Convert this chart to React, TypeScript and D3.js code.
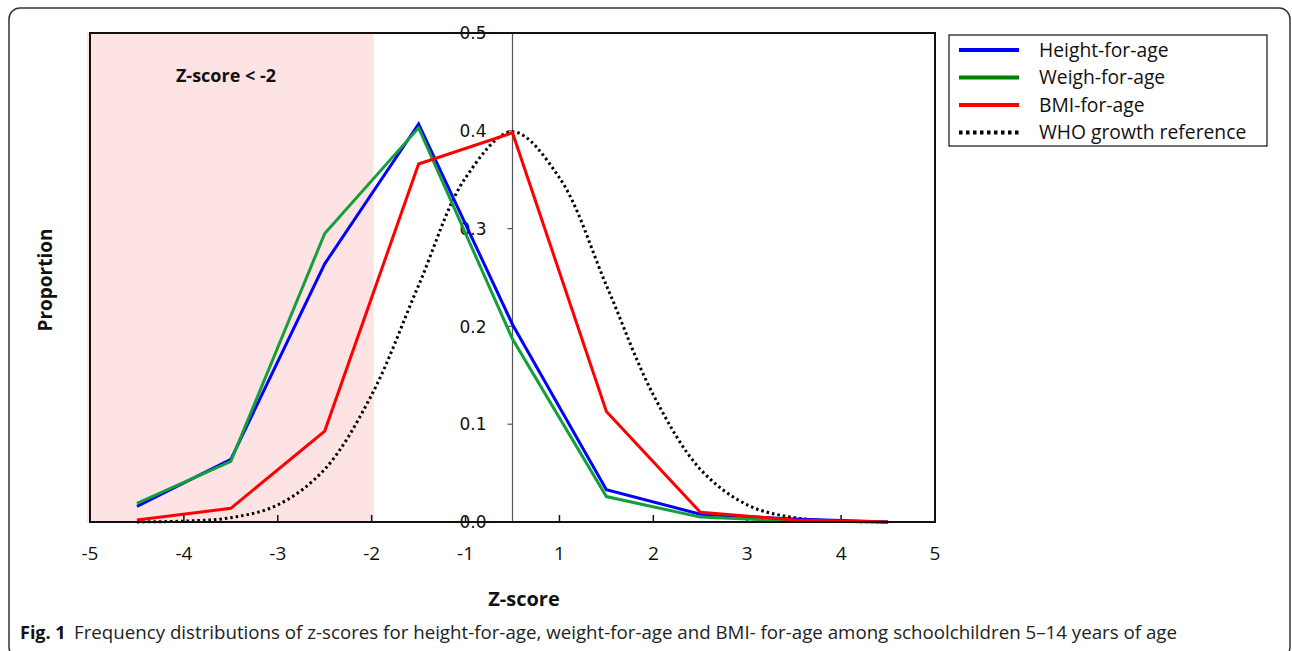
import React from 'react';
import * as d3 from 'd3';

// x axis: 10 labelled edges (no zero), 9 bins whose centres carry the data
const xTickLabels = ['-5', '-4', '-3', '-2', '-1', '1', '2', '3', '4', '5'];
const binCentres = [0.5, 1.5, 2.5, 3.5, 4.5, 5.5, 6.5, 7.5, 8.5];
const yTicks = [0, 0.1, 0.2, 0.3, 0.4, 0.5];

const heightForAge = [0.016, 0.064, 0.264, 0.407, 0.202, 0.033, 0.008, 0.003, 0.0];
const weighForAge = [0.019, 0.062, 0.295, 0.403, 0.187, 0.026, 0.005, 0.001, 0.0];
const bmiForAge = [0.002, 0.014, 0.093, 0.366, 0.398, 0.113, 0.010, 0.002, 0.0];

// WHO reference curve, read at half-bin steps around the centre
const whoX = [0.5, 1.0, 1.5, 2.0, 2.5, 3.0, 3.5, 4.0, 4.5, 5.0, 5.5, 6.0, 6.5, 7.0, 7.5, 8.0, 8.5];
const whoY = [0.0001, 0.0009, 0.0044, 0.0175, 0.054, 0.130, 0.242, 0.352, 0.399, 0.352, 0.242, 0.130, 0.054, 0.0175, 0.0044, 0.0009, 0.0001];

const series = [
  { name: 'Height-for-age', values: heightForAge, color: '#0000ff', legendColor: '#0000ff' },
  { name: 'Weigh-for-age', values: weighForAge, color: '#12a03a', legendColor: '#008000' },
  { name: 'BMI-for-age', values: bmiForAge, color: '#ff0000', legendColor: '#ff0000' },
];

const W = 1292, H = 651;
const plot = { left: 90, right: 935, top: 33, bottom: 522 };

const App = () => {
  const x = d3.scaleLinear().domain([0, 9]).range([plot.left, plot.right]);
  const y = d3.scaleLinear().domain([0, 0.5]).range([plot.bottom, plot.top]);
  const axisX = x(4.5);

  const line = d3.line<number>()
    .x((d, i) => x(binCentres[i]))
    .y(d => y(d));

  const whoLine = d3.line<number>()
    .x((d, i) => x(whoX[i]))
    .y(d => y(d))
    .curve(d3.curveCatmullRom);

  const sans = '"Open Sans", "Noto Sans", sans-serif';
  const legendRows = [...series.map(s => s.name), 'WHO growth reference'];

  return (
    <svg width={W} height={H} style={{ position: 'absolute', left: 0, top: 0 }}>
      <rect x={0} y={0} width={W} height={H} fill="#fff" />
      <rect x={9} y={8} width={1281} height={650} rx={11} fill="none" stroke="#333" strokeWidth={1.5} />

      {/* shaded z < -2 region */}
      <rect x={x(0) - 3} y={plot.top - 1} width={x(3) - x(0) + 5} height={plot.bottom - plot.top + 1} fill="#fde3e3" />
      <text x={226} y={82} textAnchor="middle" fontFamily={sans} fontWeight="bold" fontSize={18} fill="#111">Z-score &lt; -2</text>

      {/* y axis at centre */}
      <line x1={axisX} x2={axisX} y1={plot.top} y2={plot.bottom} stroke="#555" strokeWidth={1.2} />
      {yTicks.map(t => (
        <g key={t}>
          <line x1={axisX - 5} x2={axisX} y1={y(t)} y2={y(t)} stroke="#555" strokeWidth={1.2} />
          <text x={axisX - 26} y={y(t)} dy="0.36em" textAnchor="end" fontFamily='"DejaVu Sans", sans-serif' fontSize={17} fill="#111">{t.toFixed(1)}</text>
        </g>
      ))}

      {/* x ticks */}
      {xTickLabels.map((lab, i) => (
        <g key={lab}>
          {i > 0 && i < 9 && <line x1={x(i)} x2={x(i)} y1={plot.bottom} y2={plot.bottom - 7} stroke="#111" strokeWidth={1.5} />}
          <text x={x(i)} y={560} textAnchor="middle" fontFamily={sans} fontSize={19} fill="#111">{lab}</text>
        </g>
      ))}

      {/* series */}
      <path d={whoLine(whoY) || ''} fill="none" stroke="#000" strokeWidth={3} strokeDasharray="2.5 3" />
      {series.map(s => (
        <path key={s.name} d={line(s.values) || ''} fill="none" stroke={s.color} strokeWidth={3} strokeLinejoin="miter" />
      ))}

      {/* plot frame */}
      <rect x={plot.left} y={plot.top} width={plot.right - plot.left} height={plot.bottom - plot.top} fill="none" stroke="#111" strokeWidth={2} />

      {/* axis titles */}
      <text x={524} y={606} textAnchor="middle" fontFamily={sans} fontWeight="bold" fontSize={20} fill="#111">Z-score</text>
      <text transform="translate(52,280) rotate(-90)" textAnchor="middle" fontFamily={sans} fontWeight="bold" fontSize={19} fill="#111">Proportion</text>

      {/* legend */}
      <rect x={949} y={35} width={318} height={111} fill="#fff" stroke="#111" strokeWidth={1.2} />
      {legendRows.map((name, i) => {
        const ly = 50 + i * 27.5;
        const s = series[i];
        return (
          <g key={name}>
            <line x1={959} x2={1019} y1={ly} y2={ly}
              stroke={s ? s.legendColor : '#000'} strokeWidth={4}
              strokeDasharray={s ? undefined : '3.5 3.5'} />
            <text x={1039} y={ly} dy="0.35em" fontFamily={sans} fontSize={19.3} fill="#111">{name}</text>
          </g>
        );
      })}

      {/* caption */}
      <text x={20} y={639} fontFamily={sans} fontWeight="bold" fontSize={18} fill="#111">Fig. 1</text>
      <text x={74} y={639} fontFamily={sans} fontSize={18} fill="#222" textLength={1103} lengthAdjust="spacingAndGlyphs">Frequency distributions of z-scores for height-for-age, weight-for-age and BMI- for-age among schoolchildren 5–14 years of age</text>
    </svg>
  );
};

export default App;
